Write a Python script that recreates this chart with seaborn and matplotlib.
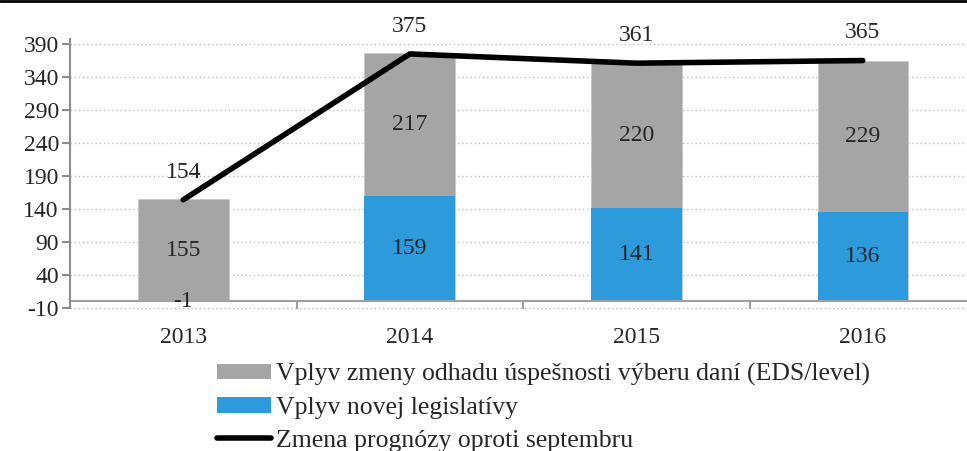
import numpy as np
import pandas as pd
import seaborn as sns
import matplotlib.pyplot as plt
from matplotlib.lines import Line2D
from matplotlib.patches import Patch

years = ['2013', '2014', '2015', '2016']
eds_level = [155, 217, 220, 229]
legislativa = [-1, 159, 141, 136]
zmena = [154, 375, 361, 365]

gray = '#A5A5A5'
blue = '#2D9ADC'

sns.set_style('white')
plt.rcParams['font.family'] = ['Liberation Serif', 'DejaVu Serif']
plt.rcParams['font.size'] = 17
plt.rcParams['axes.unicode_minus'] = False

fig = plt.figure(figsize=(9.67, 4.51), dpi=100)
ax = fig.add_axes([0.0724, 0.3126, 1.0 - 0.0724, 0.600])

x = np.arange(len(years))
# gray segment sits on top of positive blue part
gray_top = [g + max(b, 0) for g, b in zip(eds_level, legislativa)]
df = pd.DataFrame({'rok': years, 'eds': gray_top, 'leg': legislativa})

sns.barplot(data=df, x='rok', y='eds', color=gray, width=0.4, ax=ax,
            saturation=1, edgecolor='#C8C8C8', linewidth=0.6)
sns.barplot(data=df, x='rok', y='leg', color=blue, width=0.4, ax=ax,
            saturation=1, linewidth=0)
sns.lineplot(x=x, y=zmena, color='black', linewidth=4, ax=ax)

for i in range(len(years)):
    b = legislativa[i]
    base = max(b, 0)
    ax.text(i, base + eds_level[i] / 2, str(eds_level[i]), ha='center', va='center')
    ax.text(i, b / 2, str(b), ha='center', va='center')
    ax.annotate(str(zmena[i]), (i, zmena[i]), xytext=(0, 20), textcoords='offset points',
                ha='center', va='center')

ax.set_xlim(-0.5, 3.46)
ax.set_ylim(-13, 397)
ax.set_yticks(np.arange(-10, 391, 50))
ax.set_xticks(x, years)
ax.set_xlabel('')
ax.set_ylabel('')
ax.yaxis.grid(True, linestyle=(0, (1, 2)), color='#BFBFBF', linewidth=1)
ax.set_axisbelow(True)
for s in ['top', 'right', 'bottom']:
    ax.spines[s].set_visible(False)
ax.spines['left'].set_color('#8C8C8C')
ax.spines['left'].set_linewidth(1.5)
ax.spines['left'].set_bounds(-10, 397)
ax.tick_params(axis='y', length=6, width=1.5, color='#8C8C8C', left=True, pad=2)
ax.tick_params(axis='x', length=0, pad=12)
ax.axhline(0, color='#A0A0A0', linewidth=1.5, zorder=1)
ax.vlines([0.5, 1.5, 2.5], -11, 0, color='#A0A0A0', linewidth=1.5, clip_on=False)

handles = [Patch(facecolor=gray, edgecolor='none'),
           Patch(facecolor=blue, edgecolor='none'),
           Line2D([0], [0], color='black', linewidth=4)]
labels = ['Vplyv zmeny odhadu úspešnosti výberu daní (EDS/level)',
          'Vplyv novej legislatívy',
          'Zmena prognózy oproti septembru']
fig.legend(handles, labels, loc='upper left', bbox_to_anchor=(0.2244, 0.195),
           frameon=False, fontsize=18.5, handlelength=2.1, handletextpad=0.2,
           labelspacing=0.42, borderpad=0, borderaxespad=0, handleheight=0.55)

fig.add_artist(Line2D([0, 1], [0.998, 0.998], color='black', linewidth=2,
                      transform=fig.transFigure))

fig.savefig('out.png', dpi=100)
